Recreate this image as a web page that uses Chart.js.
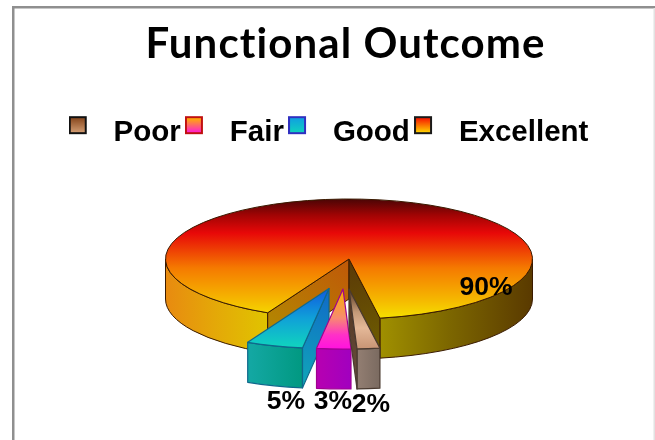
<!DOCTYPE html>
<html>
<head>
<meta charset="utf-8">
<style>html,body{margin:0;padding:0;background:#fff}canvas{display:block}</style>
<script src="https://cdn.jsdelivr.net/npm/chart.js@4"></script>
</head>
<body>
<canvas id="c" width="655" height="440"></canvas>
<script>
const titleText = "Functional Outcome";
const categories = ["Poor", "Fair", "Good", "Excellent"];
const percentages = [2, 3, 5, 90];

// ---- pseudo-3D projection (styling only) ----
const CX = 349, CY = 259, RX = 183.5, RY = 60, DEPTH = 40;
const EXPLODE = [[0, 30], [-6, 30], [-20, 29.5], [0, 0]];
const LABEL_POS = [[371, 405], [333, 402], [286, 402], [486, 288]];
const TOP_STOPS = [
  [[290, "#5a3a20"], [312, "#c49a78"], [328, "#e4b898"], [349, "#c89474"]],
  [[291, "#f8b000"], [318, "#f88a70"], [335, "#ff30c8"], [350, "#ff10e0"]],
  [[288, "#1058e0"], [318, "#10a0d8"], [345, "#10d0c0"]],
  [[198, "#450505"], [215, "#a00404"], [233, "#e80808"], [268, "#f57a00"], [300, "#f5b800"], [320, "#f5e400"]]
];
const WALL_STOPS = [
  [[360, "#907c70"], [380, "#7a6a60"]],
  [[315, "#b800b0"], [353, "#a000c0"]],
  [[248, "#14a8a4"], [304, "#009880"]],
  [[165, "#e88a10"], [215, "#e4a808"], [268, "#e0c400"], [380, "#a09000"], [450, "#7c6600"], [532, "#5a3a00"]]
];
const FACE_COLORS = [
  {end: ["#50341f", "#6a5040"]},
  {},
  {start: ["#1068c8", "#10a8b8"]},
  {start: ["#c05808", "#b09000"], end: ["#5a3808", "#706000"]}
];
const EDGE = ["#4a3a30", "#a00090", "#10688c", "#3a1a00"];
const SWATCHES = [
  ["#111111", "#8a4a20", "#d09a70"],
  ["#c01010", "#ffb000", "#ff20d0"],
  ["#3030c0", "#10a0e0", "#10d0c0"],
  ["#1a1a1a", "#f81800", "#ffd000"]
];

function swatch(s) {
  const c = document.createElement("canvas");
  c.width = 30; c.height = 36;
  const g = c.getContext("2d");
  const gr = g.createLinearGradient(0, 3, 0, 17);
  gr.addColorStop(0, s[1]); gr.addColorStop(1, s[2]);
  g.fillStyle = s[0]; g.fillRect(0, 1, 18, 18);
  g.fillStyle = gr; g.fillRect(2, 3, 14, 14);
  return c;
}

function scales(chart) {
  const a = chart.getDatasetMeta(0).data[0];
  return {x: a.x, y: a.y, sx: RX / a.outerRadius, sy: RY / a.outerRadius};
}

function arcFill(context) {
  const chart = context.chart;
  if (!chart.chartArea) return "#000";
  const i = context.dataIndex;
  const area = chart.chartArea;
  const R = Math.min(area.width, area.height) / 2;
  const my = (area.top + area.bottom) / 2;
  const sy = RY / R;
  const stops = TOP_STOPS[i];
  const toUser = ys => my + (ys - CY - EXPLODE[i][1]) / sy;
  const y0 = stops[0][0], y1 = stops[stops.length - 1][0];
  const g = chart.ctx.createLinearGradient(0, toUser(y0), 0, toUser(y1));
  stops.forEach(s => g.addColorStop((s[0] - y0) / (y1 - y0), s[1]));
  return g;
}

function hGrad(ctx, stops) {
  const x0 = stops[0][0], x1 = stops[stops.length - 1][0];
  const g = ctx.createLinearGradient(x0, 0, x1, 0);
  stops.forEach(s => g.addColorStop((s[0] - x0) / (x1 - x0), s[1]));
  return g;
}

const pie3d = {
  id: "pie3d",
  afterLayout(chart) {
    chart.legend.left -= 17; chart.legend.right -= 17;
    const t = chart.titleBlock;
    if (!t._spaced) {
      const d = t.draw.bind(t);
      t.draw = function () {
        chart.ctx.letterSpacing = "1.1px";
        d();
        chart.ctx.letterSpacing = "0px";
      };
      t._spaced = true;
    }
  },
  beforeDraw(chart) {
    const c = chart.ctx;
    c.save();
    c.fillStyle = "#fff"; c.fillRect(0, 0, 655, 440);
    c.fillStyle = "#8f8f8f";
    c.fillRect(12, 6, 643, 2.5);
    c.fillRect(12, 6, 2.5, 434);
    c.fillStyle = "#e2e2e2";
    c.fillRect(653.5, 8, 1.5, 432);
    c.restore();
  },
  beforeDatasetDraw() { return false; },
  afterDatasetsDraw(chart) {
    const c = chart.ctx;
    const arcs = chart.getDatasetMeta(0).data;
    const s = scales(chart);
    for (let i = arcs.length - 1; i >= 0; i--) {
      const arc = arcs[i];
      const ox = CX + EXPLODE[i][0], oy = CY + EXPLODE[i][1];
      const a = arc.startAngle, b = arc.endAngle;
      const rim = t => [ox + RX * Math.cos(t), oy + RY * Math.sin(t)];
      c.save();
      c.lineJoin = "round";
      c.strokeStyle = EDGE[i];
      c.lineWidth = i === 3 ? 1 : 1.2;
      // outer wall: only the part of the rim facing the viewer
      [[0, Math.PI], [2 * Math.PI, 3 * Math.PI]].forEach(r => {
        const t0 = Math.max(a, r[0]), t1 = Math.min(b, r[1]);
        if (t1 <= t0) return;
        c.beginPath();
        c.ellipse(ox, oy, RX, RY, 0, t0, t1);
        c.ellipse(ox, oy + DEPTH, RX, RY, 0, t1, t0, true);
        c.closePath();
        c.fillStyle = hGrad(c, WALL_STOPS[i]);
        c.fill(); c.stroke();
      });
      // cut faces that face the viewer
      const face = (t, cols) => {
        const p = rim(t);
        const g = c.createLinearGradient(ox, oy, p[0], p[1] + DEPTH);
        g.addColorStop(0, cols[0]); g.addColorStop(1, cols[1]);
        c.beginPath();
        c.moveTo(ox, oy); c.lineTo(p[0], p[1]);
        c.lineTo(p[0], p[1] + DEPTH); c.lineTo(ox, oy + DEPTH);
        c.closePath();
        c.fillStyle = g; c.fill(); c.stroke();
      };
      if (Math.cos(a) < 0 && FACE_COLORS[i].start) face(a, FACE_COLORS[i].start);
      if (Math.cos(b) > 0 && FACE_COLORS[i].end) face(b, FACE_COLORS[i].end);
      // top face, drawn by the library's arc element through the projection
      c.save();
      c.translate(ox, oy);
      c.scale(s.sx, s.sy);
      c.translate(-s.x, -s.y);
      arc.draw(c);
      c.restore();
      // top outline
      const p0 = rim(a);
      c.beginPath();
      c.moveTo(ox, oy); c.lineTo(p0[0], p0[1]);
      c.ellipse(ox, oy, RX, RY, 0, a, b);
      c.closePath();
      c.stroke();
      c.restore();
    }
    // value labels
    c.save();
    c.fillStyle = "#000";
    c.font = "bold 26.5px 'Liberation Sans'";
    c.textAlign = "center";
    c.textBaseline = "middle";
    percentages.forEach((v, i) => {
      c.fillText(v + "%", LABEL_POS[i][0], LABEL_POS[i][1]);
    });
    c.restore();
  }
};

new Chart(document.getElementById("c"), {
  type: "pie",
  data: {
    labels: categories,
    datasets: [{
      data: percentages,
      backgroundColor: arcFill,
      borderWidth: 0
    }]
  },
  options: {
    responsive: false,
    animation: false,
    rotation: 170.3,
    layout: {padding: {left: 36}},
    plugins: {
      tooltip: {enabled: false},
      title: {
        display: true,
        text: titleText,
        color: "#000",
        font: {family: "Lato", size: 42, weight: "bold"},
        padding: {top: 19, bottom: 45}
      },
      legend: {
        display: true,
        position: "top",
        labels: {
          color: "#000",
          font: {family: "'Liberation Sans'", size: 29.5, weight: "bold"},
          usePointStyle: true,
          pointStyleWidth: 30.25,
          padding: 4,
          generateLabels(chart) {
            return categories.map((t, i) => ({
              text: t,
              pointStyle: swatch(SWATCHES[i]),
              datasetIndex: 0,
              index: i,
              hidden: false,
              lineWidth: 0
            }));
          }
        }
      }
    }
  },
  plugins: [pie3d]
});
</script>
</body>
</html>
